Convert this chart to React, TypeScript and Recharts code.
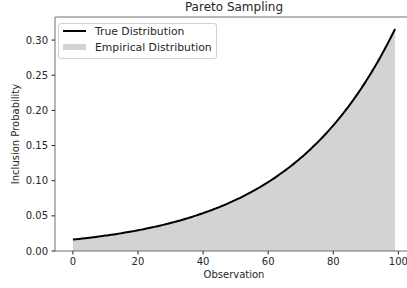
import {
  ComposedChart,
  Area,
  Line,
  XAxis,
  YAxis,
  Legend,
  ReferenceLine,
} from "recharts";

// inclusion probability for each observation 0..99
const trueProb = [
  0.0162, 0.0167, 0.0172, 0.0177, 0.0183, 0.0188, 0.0194, 0.02, 0.0206, 0.0212,
  0.0219, 0.0225, 0.0232, 0.0239, 0.0247, 0.0254, 0.0262, 0.027, 0.0278, 0.0286,
  0.0295, 0.0304, 0.0313, 0.0323, 0.0333, 0.0343, 0.0353, 0.0364, 0.0375, 0.0387,
  0.0398, 0.0411, 0.0423, 0.0436, 0.0449, 0.0463, 0.0477, 0.0492, 0.0507, 0.0522,
  0.0538, 0.0554, 0.0571, 0.0589, 0.0606, 0.0625, 0.0644, 0.0664, 0.0684, 0.0705,
  0.0726, 0.0748, 0.0771, 0.0794, 0.0819, 0.0844, 0.0869, 0.0896, 0.0923, 0.0951,
  0.098, 0.101, 0.1041, 0.1072, 0.1105, 0.1139, 0.1173, 0.1209, 0.1246, 0.1284,
  0.1323, 0.1363, 0.1405, 0.1448, 0.1492, 0.1537, 0.1584, 0.1632, 0.1682, 0.1733,
  0.1786, 0.184, 0.1896, 0.1954, 0.2013, 0.2075, 0.2138, 0.2203, 0.227, 0.2339,
  0.2411, 0.2484, 0.256, 0.2638, 0.2718, 0.2801, 0.2886, 0.2974, 0.3064, 0.3158,
];

const empiricalProb = [
  0.0162, 0.0167, 0.0172, 0.0177, 0.0183, 0.0188, 0.0194, 0.02, 0.0206, 0.0212,
  0.0219, 0.0225, 0.0232, 0.0239, 0.0247, 0.0254, 0.0262, 0.027, 0.0278, 0.0286,
  0.0295, 0.0304, 0.0313, 0.0323, 0.0333, 0.0343, 0.0353, 0.0364, 0.0375, 0.0387,
  0.0398, 0.0411, 0.0423, 0.0436, 0.0449, 0.0463, 0.0477, 0.0492, 0.0507, 0.0522,
  0.0538, 0.0554, 0.0571, 0.0589, 0.0606, 0.0625, 0.0644, 0.0664, 0.0684, 0.0705,
  0.0726, 0.0748, 0.0771, 0.0794, 0.0819, 0.0844, 0.0869, 0.0896, 0.0923, 0.0951,
  0.098, 0.101, 0.1041, 0.1072, 0.1105, 0.1139, 0.1173, 0.1209, 0.1246, 0.1284,
  0.1323, 0.1363, 0.1405, 0.1448, 0.1492, 0.1537, 0.1584, 0.1632, 0.1682, 0.1733,
  0.1786, 0.184, 0.1896, 0.1954, 0.2035, 0.2075, 0.2138, 0.2228, 0.227, 0.2365,
  0.2411, 0.2484, 0.2588, 0.2638, 0.2745, 0.2801, 0.2908, 0.2974, 0.3075, 0.3135,
];

const observations = trueProb.map((_, i) => i);
const xTicks = [0, 20, 40, 60, 80, 100];
const yTicks = [0, 0.05, 0.1, 0.15, 0.2, 0.25, 0.3];

const X_DOMAIN: [number, number] = [-5.5, 104.5];
const Y_MAX = 0.3328;

const data = observations.map((obs, i) => ({
  obs,
  truth: trueProb[i],
  empirical: empiricalProb[i],
}));

const FONT = "'DejaVu Sans', sans-serif";
const TEXT = "#262626";
const SPINE = "#707070";

function PlotLegend() {
  return (
    <div
      style={{
        position: "relative",
        width: 157,
        height: 34,
        border: "1px solid #d0d0d0",
        borderRadius: 3,
        background: "rgba(255,255,255,0.85)",
        fontFamily: FONT,
        fontSize: 10.8,
        color: TEXT,
      }}
    >
      <div style={{ position: "absolute", left: 4, top: 6, width: 23, height: 2, background: "#000" }} />
      <div style={{ position: "absolute", left: 36, top: 0, lineHeight: "15px" }}>True Distribution</div>
      <div style={{ position: "absolute", left: 4, top: 20, width: 23, height: 6, background: "#d3d3d3" }} />
      <div style={{ position: "absolute", left: 36, top: 16, lineHeight: "15px" }}>Empirical Distribution</div>
    </div>
  );
}

export default function App() {
  return (
    <div
      style={{
        position: "absolute",
        left: 0,
        top: 0,
        width: 407,
        height: 288,
        overflow: "hidden",
        background: "#fff",
        fontFamily: FONT,
      }}
    >
      <div
        style={{
          position: "absolute",
          left: 55,
          width: 358,
          top: 0,
          textAlign: "center",
          fontSize: 12,
          lineHeight: "14px",
          color: TEXT,
        }}
      >
        Pareto Sampling
      </div>
      <ComposedChart
        width={420}
        height={288}
        data={data}
        margin={{ top: 17, right: 7, bottom: 0, left: 8 }}
        style={{ fontFamily: FONT }}
      >
        <XAxis
          dataKey="obs"
          type="number"
          domain={X_DOMAIN}
          ticks={xTicks}
          allowDataOverflow
          height={37}
          tickSize={3.5}
          tickMargin={3.5}
          tick={{ fontSize: 10, fill: TEXT }}
          tickLine={{ stroke: TEXT }}
          axisLine={{ stroke: SPINE }}
          label={{ value: "Observation", position: "insideBottom", offset: 10, fontSize: 10, fill: TEXT }}
        />
        <YAxis
          type="number"
          domain={[0, Y_MAX]}
          ticks={yTicks}
          allowDataOverflow
          width={47}
          tickSize={3.5}
          tickMargin={3.5}
          tickFormatter={(v: number) => v.toFixed(2)}
          tick={{ fontSize: 10, fill: TEXT }}
          tickLine={{ stroke: TEXT }}
          axisLine={{ stroke: SPINE }}
          label={{
            value: "Inclusion Probability",
            angle: -90,
            position: "insideLeft",
            offset: 7,
            fontSize: 10,
            fill: TEXT,
            style: { textAnchor: "middle" },
          }}
        />
        <ReferenceLine y={Y_MAX} stroke={SPINE} />
        <Area
          dataKey="empirical"
          type="step"
          stroke="none"
          fill="#d3d3d3"
          fillOpacity={1}
          isAnimationActive={false}
        />
        <Line
          dataKey="truth"
          type="monotone"
          stroke="#000"
          strokeWidth={2}
          dot={false}
          isAnimationActive={false}
        />
        <Legend
          layout="vertical"
          align="center"
          verticalAlign="middle"
          content={() => <PlotLegend />}
          wrapperStyle={{ left: 58, top: 23, width: 159, height: 36 }}
        />
      </ComposedChart>
    </div>
  );
}
